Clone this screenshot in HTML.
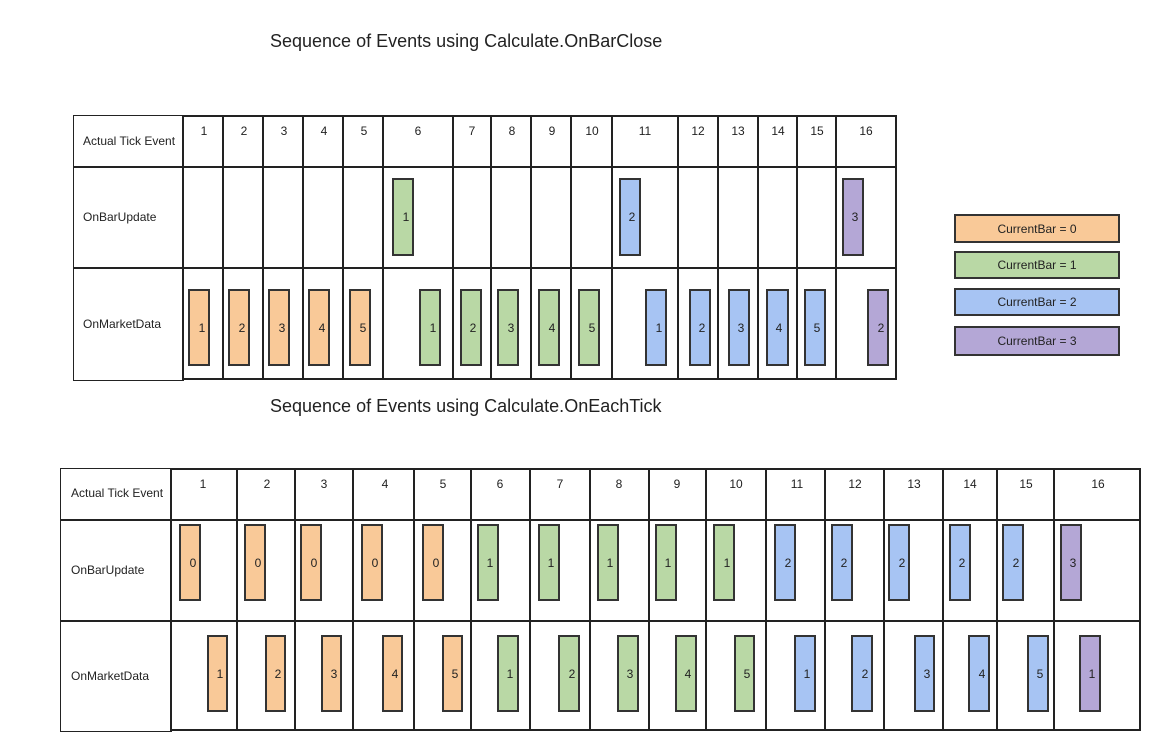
<!DOCTYPE html>
<html><head><meta charset="utf-8"><style>
html,body{margin:0;padding:0;background:#fff;}
svg{display:block;font-family:"Liberation Sans",Arial,sans-serif;}
.t{font-size:12px;fill:#222;}
.n{font-size:12px;fill:#222;text-anchor:middle;}
.g{stroke:#222;stroke-width:2;fill:none;}
.o{fill:#f9c998;stroke:#333;stroke-width:2;}
.gr{fill:#b9d8a5;stroke:#333;stroke-width:2;}
.b{fill:#a7c4f3;stroke:#333;stroke-width:2;}
.p{fill:#b4a7d6;stroke:#333;stroke-width:2;}
</style></head><body>
<svg width="1165" height="751" viewBox="0 0 1165 751" xmlns="http://www.w3.org/2000/svg">
<text x="270" y="47" font-size="18" fill="#222">Sequence of Events using Calculate.OnBarClose</text>
<text x="270" y="412" font-size="18" fill="#222">Sequence of Events using Calculate.OnEachTick</text>

<!-- TOP TABLE -->
<rect x="73.5" y="115.5" width="110" height="265" fill="none" stroke="#222" stroke-width="1"/>
<line x1="73" y1="167" x2="896" y2="167" class="g"/>
<line x1="73" y1="268" x2="896" y2="268" class="g"/>
<path class="g" d="M183 115V380 M223 115V380 M263 115V380 M303 115V380 M343 115V380 M383 115V380 M453 115V380 M491 115V380 M531 115V380 M571 115V380 M612 115V380 M678 115V380 M718 115V380 M758 115V380 M797 115V380 M836 115V380 M896 115V380 M183 116H896 M183 379H896"/>
<text class="t" x="83" y="145">Actual Tick Event</text>
<text class="t" x="83" y="221">OnBarUpdate</text>
<text class="t" x="83" y="328">OnMarketData</text>
<g class="n">
<text x="204" y="135">1</text><text x="244" y="135">2</text><text x="284" y="135">3</text><text x="324" y="135">4</text><text x="364" y="135">5</text><text x="418" y="135">6</text><text x="472" y="135">7</text><text x="512" y="135">8</text><text x="552" y="135">9</text><text x="592" y="135">10</text><text x="645" y="135">11</text><text x="698" y="135">12</text><text x="738" y="135">13</text><text x="778" y="135">14</text><text x="817" y="135">15</text><text x="866" y="135">16</text>
</g>
<rect class="gr" x="393" y="179" width="20" height="76"/><text class="n" x="406" y="221">1</text>
<rect class="b" x="620" y="179" width="20" height="76"/><text class="n" x="632" y="221">2</text>
<rect class="p" x="843" y="179" width="20" height="76"/><text class="n" x="855" y="221">3</text>

<rect class="o" x="189" y="290" width="20" height="75"/><text class="n" x="202" y="332">1</text>
<rect class="o" x="229" y="290" width="20" height="75"/><text class="n" x="242" y="332">2</text>
<rect class="o" x="269" y="290" width="20" height="75"/><text class="n" x="282" y="332">3</text>
<rect class="o" x="309" y="290" width="20" height="75"/><text class="n" x="322" y="332">4</text>
<rect class="o" x="350" y="290" width="20" height="75"/><text class="n" x="363" y="332">5</text>
<rect class="gr" x="420" y="290" width="20" height="75"/><text class="n" x="433" y="332">1</text>
<rect class="gr" x="461" y="290" width="20" height="75"/><text class="n" x="473" y="332">2</text>
<rect class="gr" x="498" y="290" width="20" height="75"/><text class="n" x="511" y="332">3</text>
<rect class="gr" x="539" y="290" width="20" height="75"/><text class="n" x="552" y="332">4</text>
<rect class="gr" x="579" y="290" width="20" height="75"/><text class="n" x="592" y="332">5</text>
<rect class="b" x="646" y="290" width="20" height="75"/><text class="n" x="659" y="332">1</text>
<rect class="b" x="690" y="290" width="20" height="75"/><text class="n" x="702" y="332">2</text>
<rect class="b" x="729" y="290" width="20" height="75"/><text class="n" x="741" y="332">3</text>
<rect class="b" x="767" y="290" width="21" height="75"/><text class="n" x="779" y="332">4</text>
<rect class="b" x="805" y="290" width="20" height="75"/><text class="n" x="817" y="332">5</text>
<rect class="p" x="868" y="290" width="20" height="75"/><text class="n" x="881" y="332">2</text>

<!-- LEGEND -->
<rect class="o" x="955" y="215" width="164" height="27"/><text class="n" x="1037" y="233" font-size="11">CurrentBar = 0</text>
<rect class="gr" x="955" y="252" width="164" height="26"/><text class="n" x="1037" y="269" font-size="11">CurrentBar = 1</text>
<rect class="b" x="955" y="289" width="164" height="26"/><text class="n" x="1037" y="306" font-size="11">CurrentBar = 2</text>
<rect class="p" x="955" y="327" width="164" height="28"/><text class="n" x="1037" y="345" font-size="11">CurrentBar = 3</text>

<!-- BOTTOM TABLE -->
<rect x="60.5" y="468.5" width="111" height="263" fill="none" stroke="#222" stroke-width="1"/>
<line x1="60" y1="520" x2="1140" y2="520" class="g"/>
<line x1="60" y1="621" x2="1140" y2="621" class="g"/>
<path class="g" d="M171 468V731 M237 468V731 M295 468V731 M353 468V731 M414 468V731 M471 468V731 M530 468V731 M590 468V731 M649 468V731 M706 468V731 M766 468V731 M825 468V731 M884 468V731 M943 468V731 M997 468V731 M1054 468V731 M1140 468V731 M171 469H1140 M171 730H1140"/>
<text class="t" x="71" y="497">Actual Tick Event</text>
<text class="t" x="71" y="574">OnBarUpdate</text>
<text class="t" x="71" y="680">OnMarketData</text>
<g class="n">
<text x="203" y="488">1</text><text x="267" y="488">2</text><text x="324" y="488">3</text><text x="385" y="488">4</text><text x="443" y="488">5</text><text x="500" y="488">6</text><text x="560" y="488">7</text><text x="619" y="488">8</text><text x="677" y="488">9</text><text x="736" y="488">10</text><text x="797" y="488">11</text><text x="855" y="488">12</text><text x="914" y="488">13</text><text x="970" y="488">14</text><text x="1026" y="488">15</text><text x="1098" y="488">16</text>
</g>
<rect class="o" x="180" y="525" width="20" height="75"/><text class="n" x="193" y="567">0</text>
<rect class="o" x="245" y="525" width="20" height="75"/><text class="n" x="258" y="567">0</text>
<rect class="o" x="301" y="525" width="20" height="75"/><text class="n" x="314" y="567">0</text>
<rect class="o" x="362" y="525" width="20" height="75"/><text class="n" x="375" y="567">0</text>
<rect class="o" x="423" y="525" width="20" height="75"/><text class="n" x="436" y="567">0</text>
<rect class="gr" x="478" y="525" width="20" height="75"/><text class="n" x="490" y="567">1</text>
<rect class="gr" x="539" y="525" width="20" height="75"/><text class="n" x="551" y="567">1</text>
<rect class="gr" x="598" y="525" width="20" height="75"/><text class="n" x="610" y="567">1</text>
<rect class="gr" x="656" y="525" width="20" height="75"/><text class="n" x="668" y="567">1</text>
<rect class="gr" x="714" y="525" width="20" height="75"/><text class="n" x="727" y="567">1</text>
<rect class="b" x="775" y="525" width="20" height="75"/><text class="n" x="788" y="567">2</text>
<rect class="b" x="832" y="525" width="20" height="75"/><text class="n" x="844" y="567">2</text>
<rect class="b" x="889" y="525" width="20" height="75"/><text class="n" x="902" y="567">2</text>
<rect class="b" x="950" y="525" width="20" height="75"/><text class="n" x="962" y="567">2</text>
<rect class="b" x="1003" y="525" width="20" height="75"/><text class="n" x="1016" y="567">2</text>
<rect class="p" x="1061" y="525" width="20" height="75"/><text class="n" x="1073" y="567">3</text>

<rect class="o" x="208" y="636" width="19" height="75"/><text class="n" x="220" y="678">1</text>
<rect class="o" x="266" y="636" width="19" height="75"/><text class="n" x="278" y="678">2</text>
<rect class="o" x="322" y="636" width="19" height="75"/><text class="n" x="334" y="678">3</text>
<rect class="o" x="383" y="636" width="19" height="75"/><text class="n" x="395" y="678">4</text>
<rect class="o" x="443" y="636" width="19" height="75"/><text class="n" x="455" y="678">5</text>
<rect class="gr" x="498" y="636" width="20" height="75"/><text class="n" x="510" y="678">1</text>
<rect class="gr" x="559" y="636" width="20" height="75"/><text class="n" x="572" y="678">2</text>
<rect class="gr" x="618" y="636" width="20" height="75"/><text class="n" x="630" y="678">3</text>
<rect class="gr" x="676" y="636" width="20" height="75"/><text class="n" x="688" y="678">4</text>
<rect class="gr" x="735" y="636" width="19" height="75"/><text class="n" x="747" y="678">5</text>
<rect class="b" x="795" y="636" width="20" height="75"/><text class="n" x="807" y="678">1</text>
<rect class="b" x="852" y="636" width="20" height="75"/><text class="n" x="865" y="678">2</text>
<rect class="b" x="915" y="636" width="19" height="75"/><text class="n" x="927" y="678">3</text>
<rect class="b" x="969" y="636" width="20" height="75"/><text class="n" x="982" y="678">4</text>
<rect class="b" x="1028" y="636" width="20" height="75"/><text class="n" x="1040" y="678">5</text>
<rect class="p" x="1080" y="636" width="20" height="75"/><text class="n" x="1092" y="678">1</text>
</svg>
</body></html>
